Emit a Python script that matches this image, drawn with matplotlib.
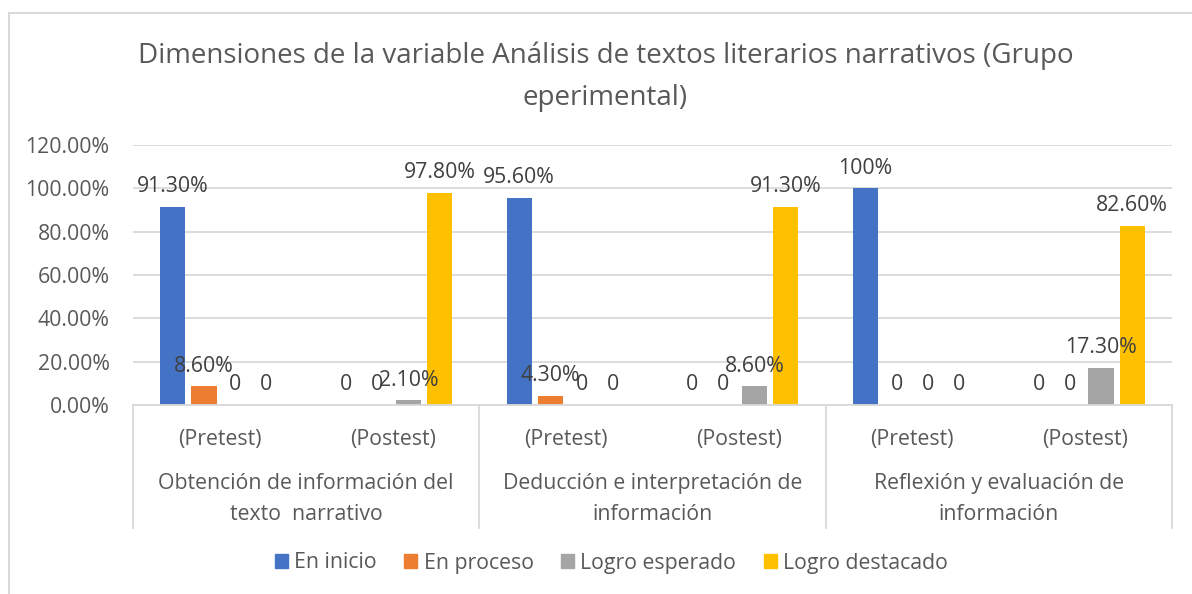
import matplotlib
matplotlib.use("Agg")
from matplotlib import pyplot as plt
from matplotlib.patches import Patch
from matplotlib.lines import Line2D
import numpy as np

plt.rcParams['font.family'] = ['Open Sans', 'DejaVu Sans']

# chart data
phases = ["(Pretest)", "(Postest)"] * 3
dimensions = ["Obtención de información del\ntexto  narrativo",
              "Deducción e interpretación de\ninformación",
              "Reflexión y evaluación de\ninformación"]
series = ["En inicio", "En proceso", "Logro esperado", "Logro destacado"]
en_inicio = [91.3, 0, 95.6, 0, 100, 0]
en_proceso = [8.6, 0, 4.3, 0, 0, 0]
logro_esperado = [0, 2.1, 0, 8.6, 0, 17.3]
logro_destacado = [0, 97.8, 0, 91.3, 0, 82.6]
colors = ["#4472C4", "#ED7D31", "#A5A5A5", "#FFC000"]

W, H = 1192, 594
FS = 15.3
fig = plt.figure(figsize=(W / 100, H / 100), dpi=100)
ax = fig.add_axes([133 / W, (H - 405) / H, (1172 - 133) / W, 260 / H])

x = np.arange(len(phases))
values = [en_inicio, en_proceso, logro_esperado, logro_destacado]
bw = 0.145
step = 0.18


def fmt(v):
    if v == 0:
        return "0"
    if v == 100:
        return "100%"
    return "%.2f%%" % v


for i, (name, vals) in enumerate(zip(series, values)):
    pos = x + (i - 1.5) * step
    ax.bar(pos, np.array(vals) / 100, width=bw, color=colors[i], label=name, zorder=2)
    for p, v in zip(pos, vals):
        ax.annotate(fmt(v), (p, v / 100), xytext=(0, 7), textcoords="offset points",
                    ha="center", va="bottom", fontsize=FS, color="#404040", zorder=3)

ax.set_xlim(-0.5, len(phases) - 0.5)
ax.set_ylim(0, 1.2)
ax.set_yticks(np.arange(0, 1.21, 0.2))
ax.set_yticklabels(["%.2f%%" % (t * 100) for t in np.arange(0, 1.21, 0.2)])
ax.yaxis.grid(True, color="#D9D9D9", linewidth=1.3, zorder=0)
ax.set_axisbelow(True)
for s in ["top", "right", "left"]:
    ax.spines[s].set_visible(False)
ax.spines["bottom"].set_color("#D9D9D9")
ax.spines["bottom"].set_linewidth(1.3)
ax.tick_params(axis="y", length=0, labelsize=FS, labelcolor="#595959", pad=17)
ax.set_xticks(x)
ax.set_xticklabels(phases)
ax.tick_params(axis="x", length=0, labelsize=FS, labelcolor="#595959", pad=17)

# second level of category axis
tr = ax.get_xaxis_transform()
for g, label in enumerate(dimensions):
    ax.text(2 * g + 0.5, -0.362, label, transform=tr, ha="center", va="center",
            fontsize=FS, color="#595959", linespacing=1.62)
for b in [-0.5, 1.5, 3.5, 5.5]:
    ax.add_line(Line2D([b, b], [0, -0.473], transform=tr, color="#D9D9D9",
                       linewidth=1.3, clip_on=False))

fig.suptitle("Dimensiones de la variable Análisis de textos literarios narrativos (Grupo\neperimental)",
             x=0.508, y=(H - 42) / H, va="top", fontsize=20, color="#595959", linespacing=1.65)

handles = [Patch(color=c) for c in colors]
fig.legend(handles, series, loc="center", bbox_to_anchor=(0.513, (H - 563) / H), ncol=4,
           frameon=False, fontsize=FS, labelcolor="#595959", handlelength=0.6,
           handleheight=0.6, handletextpad=0.3, columnspacing=1.3)

# chart border (top and left visible)
fig.add_artist(Line2D([9 / W, 9 / W], [0, (H - 13) / H], transform=fig.transFigure,
                      color="#D9D9D9", linewidth=1.5))
fig.add_artist(Line2D([9 / W, 1], [(H - 13) / H, (H - 13) / H], transform=fig.transFigure,
                      color="#D9D9D9", linewidth=1.5))

fig.savefig("out.png", dpi=100)
